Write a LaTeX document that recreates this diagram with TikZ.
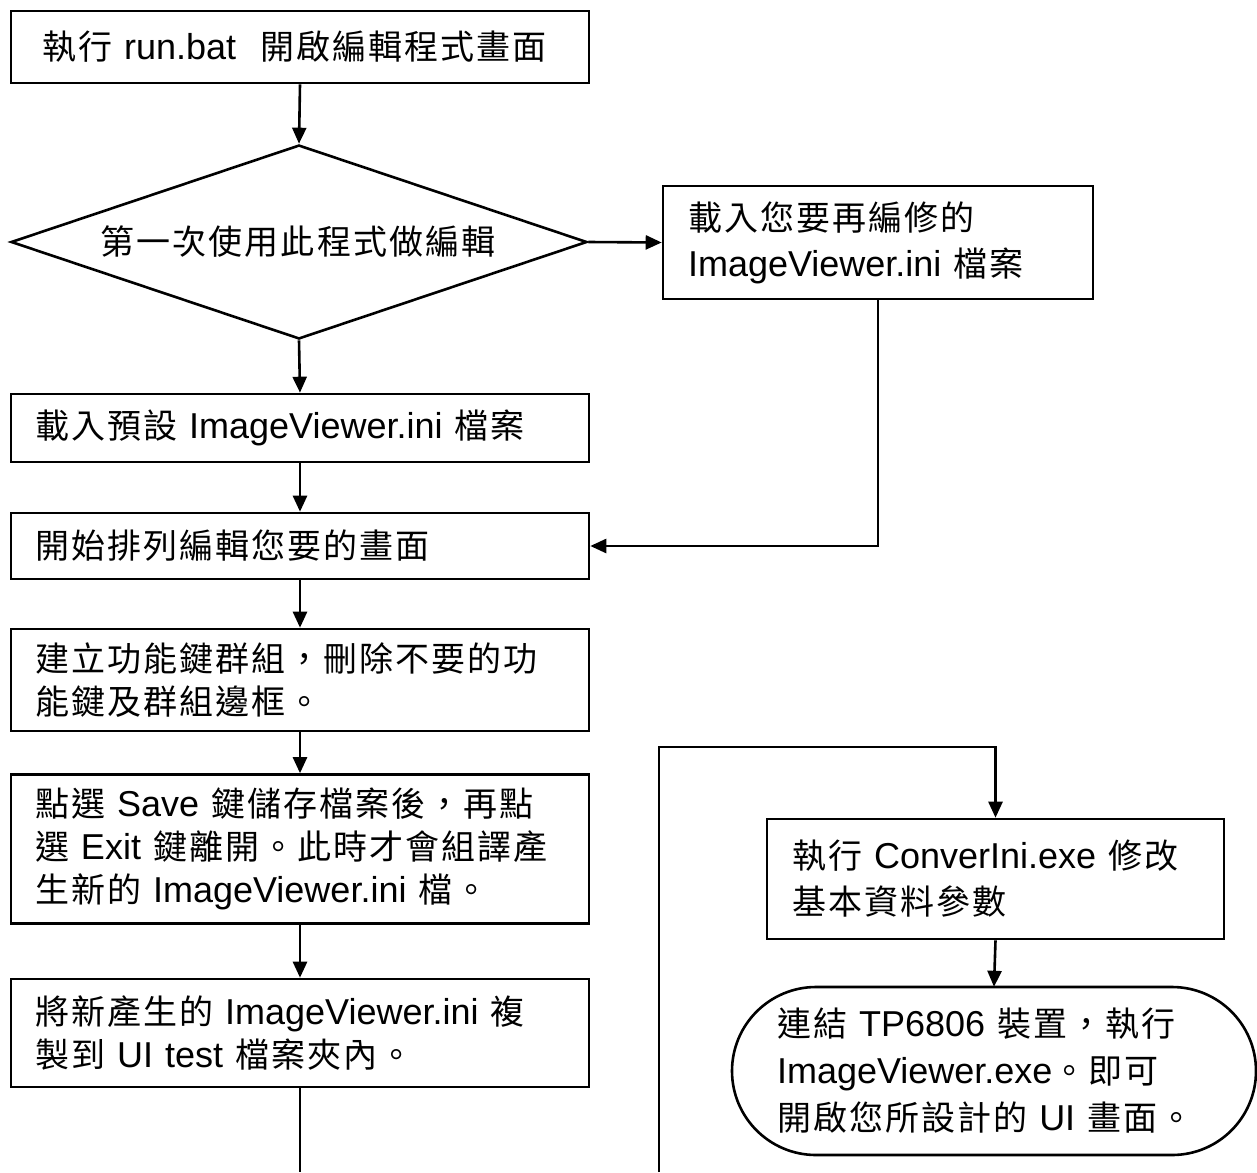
\documentclass[tikz,border=0pt]{standalone}
\usepackage{fontspec}
\setmainfont{Liberation Sans}
\newfontfamily\cjkfont{Noto Sans CJK TC}[LetterSpace=6]
\usetikzlibrary{arrows.meta,shapes.geometric}
% Chinese runs inside the mixed Latin/Chinese labels
\newcommand\zh[1]{{\cjkfont\fontsize{34pt}{43pt}\selectfont #1}}

\tikzset{
  flow/.style={line width=2.6pt},
  arr/.style={flow,-{Triangle[length=16pt,width=14pt]}},
  box/.style={draw,line width=2.6pt,align=left,inner xsep=0pt,inner ysep=3pt,
              font=\fontsize{36pt}{43pt}\selectfont},
  lbox/.style={box,minimum width=578pt,text width=530pt},
  rbox/.style={box,font=\fontsize{36pt}{46pt}\selectfont},
}

\begin{document}
\begin{tikzpicture}[x=1pt,y=-1pt]
  \useasboundingbox (0,0) rectangle (1257,1172);

  % main column
  \node[lbox,text width=516pt,minimum height=72pt] (b1) at (300,47)
    {\zh{執行}~run.bat\ \ \zh{開啟編輯程式畫面}};

  \node[draw,diamond,line width=2.6pt,minimum width=576pt,minimum height=194pt,
        inner sep=0pt] (dec) at (299,242) {};
  \node[font=\fontsize{36pt}{43pt}\selectfont] (dectxt) at (298,242)
    {\zh{第一次使用此程式做編輯}};

  \node[lbox,minimum height=68pt] (b3) at (300,428)
    {\zh{載入預設}~ImageViewer.ini~\zh{檔案}};
  \node[lbox,minimum height=66pt] (b4) at (300,546)
    {\zh{開始排列編輯您要的畫面}};
  \node[lbox,minimum height=102pt] (b5) at (300,680)
    {\zh{建立功能鍵群組，刪除不要的功}\\\zh{能鍵及群組邊框。}};
  \node[lbox,minimum height=149pt] (b6) at (300,849)
    {\zh{點選}~Save~\zh{鍵儲存檔案後，再點}\\
     \zh{選}~Exit~\zh{鍵離開。此時才會組譯產}\\
     \zh{生新的}~ImageViewer.ini~\zh{檔。}};
  \node[lbox,minimum height=108pt] (b7) at (300,1033)
    {\zh{將新產生的}~ImageViewer.ini~\zh{複}\\\zh{製到}~UI~test~\zh{檔案夾內。}};

  % side branch
  \node[rbox,minimum width=430pt,minimum height=113pt,text width=380pt] (r1) at (878,242.5)
    {\zh{載入您要再編修的}\\ImageViewer.ini~\zh{檔案}};

  % continuation column
  \node[rbox,minimum width=457pt,minimum height=120pt,text width=407pt] (r2) at (995.5,879)
    {\zh{執行}~ConverIni.exe~\zh{修改}\\\zh{基本資料參數}};

  \draw[flow] (816,987) -- (1172,987)
    arc[start angle=90,end angle=-90,radius=84pt] -- (816,1155)
    arc[start angle=270,end angle=90,radius=84pt] -- cycle;
  \node[align=left,text width=434pt,minimum height=168pt,inner sep=0pt,
        font=\fontsize{36pt}{47pt}\selectfont] (term) at (994,1071)
    {\zh{連結}~TP6806~\zh{裝置，執行}\\ImageViewer.exe\zh{。即可}\\
     \zh{開啟您所設計的}~UI~\zh{畫面。}};

  % connectors
  \draw[arr] (b1.south) -- (dec.north);
  \draw[arr] (dec.east) -- (r1.west);
  \draw[arr] (dec.south) -- (b3.north);
  \draw[arr] (b3.south) -- (b4.north);
  \draw[arr] (r1.south) |- (b4.east);
  \draw[arr] (b4.south) -- (b5.north);
  \draw[arr] (b5.south) -- (b6.north);
  \draw[arr] (b6.south) -- (b7.north);
  \coordinate (down) at (300,1172);
  \draw[flow] (b7.south) -- (down);

  \coordinate (up) at (659,1172);
  \coordinate (turn) at (659,747);
  \draw[arr] (up) -- (turn) -| (r2.north);
  \draw[arr] (r2.south) -- (term.north);
\end{tikzpicture}
\end{document}
